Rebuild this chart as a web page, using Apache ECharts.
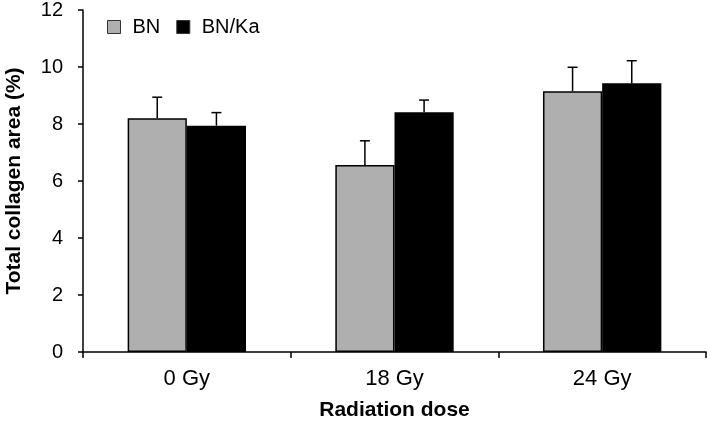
<!DOCTYPE html>
<html><head><meta charset="utf-8">
<script src="https://cdn.jsdelivr.net/npm/echarts@6/dist/echarts.min.js"></script>
<style>html,body{margin:0;padding:0;background:#fff}#c{width:707px;height:425px}</style>
</head><body><div id="c"></div>
<script>
const categories = ['0 Gy', '18 Gy', '24 Gy'];
const seriesNames = ['BN', 'BN/Ka'];
const bnValues = [8.2, 6.56, 9.15];
const bnErrors = [0.74, 0.85, 0.84];
const bnkaValues = [7.94, 8.41, 9.43];
const bnkaErrors = [0.46, 0.43, 0.79];
const yTicks = [0, 2, 4, 6, 8, 10, 12];

const FONT = '"Liberation Sans", Arial, sans-serif';
const GAP = 0.43;
const colors = ['#afafaf', '#000000'];

function errSeries(vals, errs, idx) {
  return {
    type: 'custom',
    z: 5,
    silent: true,
    data: vals.map((v, i) => [i, v, v + errs[i]]),
    renderItem: function (params, api) {
      const i = api.value(0);
      const band = api.size([1, 0])[0];
      const bw = band * (1 - GAP) / 2;
      const off = (idx === 0 ? -1 : 1) * bw / 2;
      const base = api.coord([i, api.value(1)]);
      const top = api.coord([i, api.value(2)]);
      const x = base[0] + off;
      const cap = 5;
      const style = { stroke: '#000', lineWidth: 1.5 };
      return {
        type: 'group',
        children: [
          { type: 'line', shape: { x1: x, y1: base[1], x2: x, y2: top[1] }, style: style },
          { type: 'line', shape: { x1: x - cap, y1: top[1], x2: x + cap, y2: top[1] }, style: style }
        ]
      };
    }
  };
}

const chart = echarts.init(document.getElementById('c'), null, { renderer: 'canvas' });
chart.setOption({
  animation: false,
  textStyle: { fontFamily: FONT },
  grid: { left: 83, right: 1, top: 10, bottom: 73, containLabel: false, outerBoundsMode: 'none' },
  legend: {
    data: seriesNames,
    left: 102, top: 12,
    itemWidth: 13, itemHeight: 13, itemGap: 16,
    icon: 'rect',
    itemStyle: { borderColor: '#333', borderWidth: 1 },
    textStyle: { fontSize: 20, color: '#000', fontFamily: FONT, padding: [0, 0, 0, 7] }
  },
  xAxis: {
    type: 'category',
    data: categories,
    axisLine: { lineStyle: { color: '#000', width: 1.5 } },
    axisTick: { show: true, length: 6, lineStyle: { color: '#000', width: 1.5 } },
    axisLabel: { fontSize: 22, color: '#000', margin: 16, fontFamily: FONT },
    name: 'Radiation dose',
    nameLocation: 'middle',
    nameGap: 48,
    nameTextStyle: { fontSize: 21, fontWeight: 'bold', color: '#000', fontFamily: FONT }
  },
  yAxis: {
    type: 'value',
    min: 0, max: 12, interval: 2,
    splitLine: { show: false },
    axisLine: { show: true, lineStyle: { color: '#000', width: 1.5 } },
    axisTick: { show: true, length: 5, lineStyle: { color: '#000', width: 1.5 } },
    axisLabel: { fontSize: 20, color: '#000', margin: 20, fontFamily: FONT },
    name: 'Total collagen area (%)',
    nameLocation: 'middle',
    nameGap: 58,
    nameTextStyle: { fontSize: 21, fontWeight: 'bold', color: '#000', fontFamily: FONT }
  },
  series: [
    {
      name: seriesNames[0], type: 'bar', data: bnValues,
      barGap: '0%', barCategoryGap: (GAP * 100) + '%',
      itemStyle: { color: colors[0], borderColor: '#000', borderWidth: 1.5 }
    },
    {
      name: seriesNames[1], type: 'bar', data: bnkaValues,
      barGap: '0%', barCategoryGap: (GAP * 100) + '%',
      itemStyle: { color: colors[1], borderColor: '#000', borderWidth: 1.5 }
    },
    errSeries(bnValues, bnErrors, 0),
    errSeries(bnkaValues, bnkaErrors, 1)
  ]
});
</script></body></html>
